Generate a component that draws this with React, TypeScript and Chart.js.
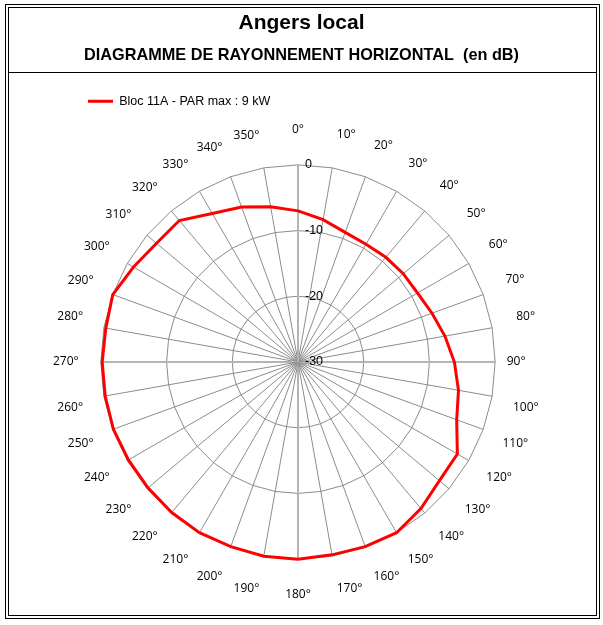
import React, { useEffect, useRef } from 'react';
import { Chart, registerables } from 'chart.js';

Chart.register(...registerables);

// ---------- data ----------
const TITLE = 'Angers local';
const SUBTITLE = 'DIAGRAMME DE RAYONNEMENT HORIZONTAL  (en dB)';
const SERIES_NAME = 'Bloc 11A - PAR max : 9 kW';

const ANGLE_LABELS = [
  '0°', '10°', '20°', '30°', '40°', '50°', '60°', '70°', '80°',
  '90°', '100°', '110°', '120°', '130°', '140°', '150°', '160°', '170°',
  '180°', '190°', '200°', '210°', '220°', '230°', '240°', '250°', '260°',
  '270°', '280°', '290°', '300°', '310°', '320°', '330°', '340°', '350°',
];

const SERIES_VALUES = [
  -7.0, -8.0, -9.0, -9.3, -9.2, -9.1, -9.0, -8.3, -7.3,
  -6.2, -5.2, -4.3, -2.0, -1.9, -0.9, 0.0, -0.1, -0.2,
  0.0, 0.0, -0.1, 0.0, -0.1, -0.2, -0.2, -0.1, -0.2,
  -0.2, -0.3, 0.0, -1.1, -1.9, -1.9, -3.9, -4.9, -6.0,
];

const R_MIN = -30;
const R_MAX = 0;
const R_STEP = 10;
const TICK_LABELS = ['-30', '-20', '-10', '0'];

// ---------- styling ----------
const PL_SIZE = 12;
const PL_FAMILY = "'Open Sans', sans-serif";
const LABEL_GAP = 35;
const PLOT_BOX_W = 490;
const PLOT_BOX_SHIFT = -1;

let measureCtx: CanvasRenderingContext2D | null = null;
function labelWidth(text: string): number {
  if (!measureCtx) {
    measureCtx = document.createElement('canvas').getContext('2d');
  }
  measureCtx!.font = `${PL_SIZE}px ${PL_FAMILY}`;
  return measureCtx!.measureText(text).width;
}

const tickLabelPlugin = {
  id: 'tickLabelPlugin',
  afterDatasetsDraw(chart: any) {
    const s = chart.scales.r;
    const ctx = chart.ctx;
    ctx.save();
    ctx.font = "12.5px 'Liberation Sans', Arial, sans-serif";
    ctx.fillStyle = '#000';
    ctx.textAlign = 'left';
    ctx.textBaseline = 'middle';
    s.ticks.forEach((t: any, i: number) => {
      const d = s.getDistanceFromCenterForValue(t.value);
      ctx.fillText(TICK_LABELS[i] ?? String(t.label), s.xCenter + 7, s.yCenter - d);
    });
    ctx.restore();
  },
};

export default function App() {
  const ref = useRef<HTMLCanvasElement>(null);

  useEffect(() => {
    const canvas = ref.current;
    if (!canvas) return;
    const chart = new Chart(canvas, {
      type: 'radar',
      data: {
        labels: ANGLE_LABELS,
        datasets: [
          {
            label: SERIES_NAME,
            data: SERIES_VALUES,
            borderColor: '#ff0000',
            backgroundColor: '#ff0000',
            borderWidth: 3,
            fill: false,
            pointRadius: 0,
            pointHoverRadius: 0,
            tension: 0,
          },
        ],
      },
      options: {
        responsive: false,
        animation: false,
        events: [],
        layout: { padding: { top: 0, left: 52, right: 52, bottom: 17.44 } },
        plugins: {
          tooltip: { enabled: false },
          title: {
            display: true,
            text: TITLE,
            color: '#000',
            font: { family: "'Liberation Sans', Arial, sans-serif", size: 21, weight: 'bold', lineHeight: 1.2 },
            padding: { top: 10.4, bottom: 0 },
          },
          subtitle: {
            display: true,
            text: SUBTITLE,
            color: '#000',
            font: { family: "'Liberation Sans', Arial, sans-serif", size: 16.3, weight: 'bold', lineHeight: 0.4 },
            padding: { top: 16.94, bottom: 0 },
          },
          legend: {
            display: true,
            position: 'top',
            align: 'start',
            labels: {
              color: '#000',
              font: { family: "'Liberation Sans', Arial, sans-serif", size: 12.5 },
              usePointStyle: true,
              pointStyle: 'line',
              pointStyleWidth: 25,
              padding: 36,
            },
          },
        },
        scales: {
          r: {
            min: R_MIN,
            max: R_MAX,
            beginAtZero: false,
            afterSetDimensions: (s: any) => {
              s.left = s.left + PLOT_BOX_SHIFT;
              s.right = s.left + PLOT_BOX_W;
              s.width = PLOT_BOX_W;
              s.xCenter = Math.floor(s.left + PLOT_BOX_W / 2);
              s.drawingArea = Math.floor(Math.min(PLOT_BOX_W, s.height) / 2);
            },
            ticks: {
              stepSize: R_STEP,
              display: false,
            },
            grid: {
              color: '#8c8c8c',
              lineWidth: 1,
            },
            angleLines: {
              color: (c: any) => (c.index % 9 === 0 ? '#b4b4b4' : '#8c8c8c'),
              lineWidth: (c: any) => (c.index % 9 === 0 ? 2 : 1),
            },
            pointLabels: {
              display: true,
              color: '#000',
              font: { family: PL_FAMILY, size: PL_SIZE },
              padding: (c: any) => {
                const i = c.index;
                const a = c.chart.scales.r.getIndexAngle(i);
                const w = labelWidth(ANGLE_LABELS[i]);
                const h = PL_SIZE * 1.2;
                const inset = i === 9 ? 14 : 0;
                return LABEL_GAP - inset - (w / 2) * Math.abs(Math.sin(a)) - (h / 2) * Math.abs(Math.cos(a));
              },
            },
          },
        },
      } as any,
      plugins: [tickLabelPlugin],
    });
    return () => chart.destroy();
  }, []);

  return (
    <div style={{ position: 'fixed', left: 0, top: 0, width: 603, height: 625, background: '#fff' }}>
      <canvas
        ref={ref}
        width={603}
        height={625}
        style={{ position: 'absolute', left: 0, top: 0, width: 603, height: 625 }}
      />
      <div
        style={{
          position: 'absolute', left: 5, top: 4, width: 595, height: 615,
          border: '1px solid #000', boxSizing: 'border-box', pointerEvents: 'none',
        }}
      />
      <div
        style={{
          position: 'absolute', left: 8, top: 7, width: 589, height: 609,
          border: '1px solid #000', boxSizing: 'border-box', pointerEvents: 'none',
        }}
      />
      <div
        style={{
          position: 'absolute', left: 8, top: 72, width: 589, height: 1,
          background: '#000', pointerEvents: 'none',
        }}
      />
    </div>
  );
}
